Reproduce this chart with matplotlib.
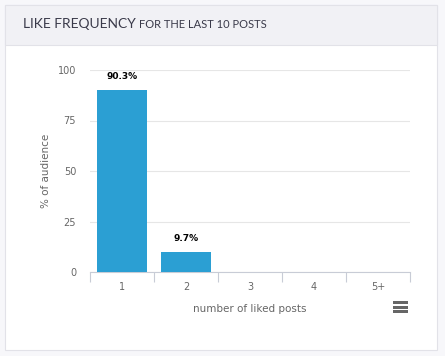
import matplotlib
matplotlib.use('Agg')
import matplotlib.pyplot as plt
from matplotlib.patches import Rectangle
import numpy as np

categories = ['1', '2', '3', '4', '5+']
values = [90.3, 9.7, 0, 0, 0]
labels = ['90.3%', '9.7%', '', '', '']
yticks = [0, 25, 50, 75, 100]

W, H = 445, 356
fig = plt.figure(figsize=(W/100, H/100), dpi=100)
fig.patch.set_facecolor('#f7f7fa')

def px(x, y, w, h):
    # pixel box (top-left origin) -> figure fraction
    return (x/W, 1 - (y + h)/H, w/W, h/H)

# card body + header band
x0, y0, w0, h0 = px(5, 5, 432, 345)
fig.patches.append(Rectangle((x0, y0), w0, h0, transform=fig.transFigure,
                             facecolor='white', edgecolor='#e2e2e8', lw=0.8, zorder=-2))
x1, y1, w1, h1 = px(5, 5, 432, 40)
fig.patches.append(Rectangle((x1, y1), w1, h1, transform=fig.transFigure,
                             facecolor='#f1f1f5', edgecolor='#e2e2e8', lw=0.8, zorder=-1))

t = fig.text(23/W, 1 - 24/H, 'LIKE FREQUENCY', fontsize=10, color='#3a3a4a',
             family='Lato', va='center', ha='left')
fig.canvas.draw()
bb = t.get_window_extent()
fig.text(bb.x1/W + 3/W, 1 - 25/H, 'FOR THE LAST 10 POSTS', fontsize=8, color='#3a3a4a',
         family='Lato', va='center', ha='left')

ax = fig.add_axes([90/W, 1 - 272/H, 320/W, 202/H])
ax.set_facecolor('none')
x = np.arange(len(categories))
bars = ax.bar(x, values, width=0.78, color='#2b9fd3', zorder=3)
for b, lab in zip(bars, labels):
    if lab:
        ax.text(b.get_x() + b.get_width()/2, b.get_height() + 4.5, lab,
                ha='center', va='bottom', fontsize=6.5, fontweight='bold', color='black')

ax.set_xlim(-0.5, len(categories) - 0.5)
ax.set_ylim(0, 100)
ax.set_yticks(yticks)
ax.set_yticklabels([str(v) for v in yticks])
ax.grid(axis='y', color='#e6e6e6', lw=0.8, zorder=0)
ax.tick_params(axis='y', length=0, pad=10, labelsize=7, labelcolor='#666666')

ax.set_xticks(np.arange(-0.5, len(categories)), minor=False)
ax.set_xticklabels([])
ax.set_xticks(x, minor=True)
ax.set_xticklabels(categories, minor=True)
ax.tick_params(axis='x', which='major', length=7, color='#c8ccd6', width=0.8)
ax.tick_params(axis='x', which='minor', length=0, pad=7, labelsize=7, labelcolor='#666666')

for s in ['top', 'right', 'left']:
    ax.spines[s].set_visible(False)
ax.spines['bottom'].set_color('#c8ccd6')
ax.spines['bottom'].set_linewidth(0.8)

ax.set_xlabel('number of liked posts', fontsize=7.5, color='#666666', labelpad=9)
ax.set_ylabel('% of audience', fontsize=7.5, color='#666666', labelpad=5)

# menu icon
for dy in (-4.5, 0, 4.5):
    fig.patches.append(Rectangle((393/W, 1 - (307 + dy + 1.5)/H), 15/W, 3/H,
                                 transform=fig.transFigure, facecolor='#666666',
                                 edgecolor='none'))

fig.savefig('out.png', dpi=100)
